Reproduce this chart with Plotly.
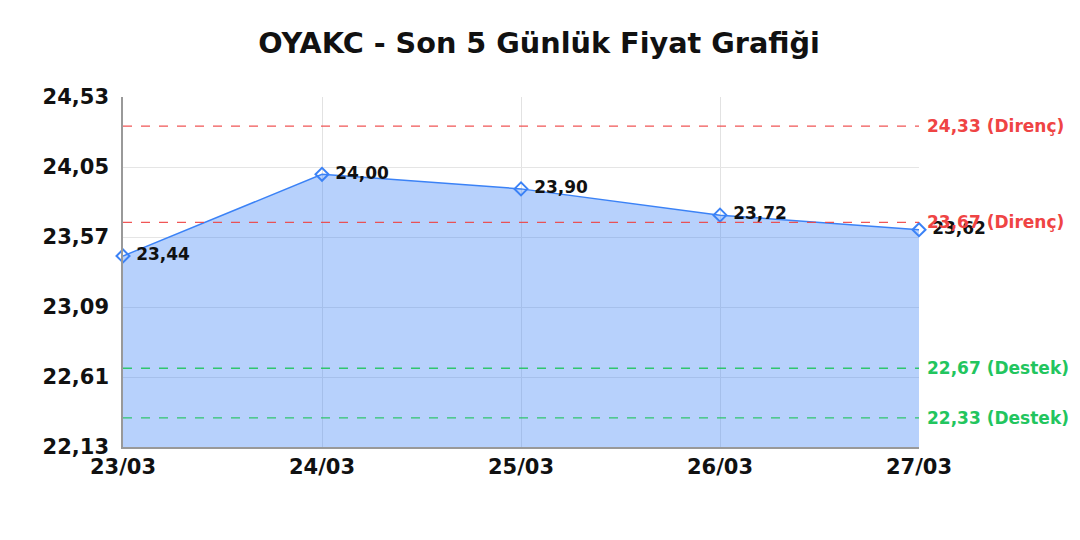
import plotly.graph_objects as go

# Son 5 günlük kapanış fiyatları
dates = ["23/03", "24/03", "25/03", "26/03", "27/03"]
prices = [23.44, 24.00, 23.90, 23.72, 23.62]

# Direnç / destek seviyeleri
resistance = [24.33, 23.67]
support = [22.67, 22.33]

y_ticks = [22.13, 22.61, 23.09, 23.57, 24.05, 24.53]

FONT = "DejaVu Sans"
RED = "#ef4444"
GREEN = "#22c55e"
BLUE = "#3b82f6"

fig = go.Figure()

fig.add_trace(go.Scatter(
    x=dates, y=prices,
    mode="lines+markers+text",
    line=dict(color=BLUE, width=1.5),
    fill="tozeroy",
    fillcolor="rgba(59,130,246,0.37)",
    marker=dict(symbol="diamond-open", size=10, color=BLUE, line=dict(width=2)),
    text=[" " + f"{p:.2f}".replace(".", ",") for p in prices],
    textposition="middle right",
    textfont=dict(family=FONT, size=17, color="#111111", weight="bold"),
    cliponaxis=False,
    showlegend=False,
))

for lvl in resistance:
    fig.add_hline(y=lvl, line=dict(color=RED, width=1.3, dash="dash"), opacity=0.9)
    fig.add_annotation(x=1, xref="paper", y=lvl, yref="y", xanchor="left", xshift=6,
                       text=f"{lvl:.2f}".replace(".", ",") + " (Direnç)", showarrow=False,
                       font=dict(family=FONT, size=17, color=RED, weight="bold"))
for lvl in support:
    fig.add_hline(y=lvl, line=dict(color=GREEN, width=1.3, dash="dash"), opacity=0.9)
    fig.add_annotation(x=1, xref="paper", y=lvl, yref="y", xanchor="left", xshift=6,
                       text=f"{lvl:.2f}".replace(".", ",") + " (Destek)", showarrow=False,
                       font=dict(family=FONT, size=17, color=GREEN, weight="bold"))

fig.update_layout(
    width=1080, height=540,
    separators=",.",
    title=dict(text="<b>OYAKC - Son 5 Günlük Fiyat Grafiği</b>", x=0.4917, xanchor="center",
               y=0.935, yanchor="middle",
               font=dict(family=FONT, size=28.7, color="#111111")),
    margin=dict(l=115, r=169, t=89, b=101),
    plot_bgcolor="white", paper_bgcolor="white",
    font=dict(family=FONT),
    xaxis=dict(
        type="category", range=[0, 4],
        showgrid=True, gridcolor="#e2e2e2",
        showline=True, linecolor="#999999", linewidth=1.5,
        ticks="", tickfont=dict(family=FONT, size=21, color="#111111", weight="bold"),
    ),
    yaxis=dict(
        range=[22.13, 24.53], tickvals=y_ticks, tickformat=".2f",
        showgrid=True, gridcolor="#e5e5e5", zeroline=False,
        showline=True, linecolor="#999999", linewidth=1.5,
        ticks="", ticklabelstandoff=8,
        tickfont=dict(family=FONT, size=21, color="#111111", weight="bold"),
    ),
)

fig.write_html("out.html")
